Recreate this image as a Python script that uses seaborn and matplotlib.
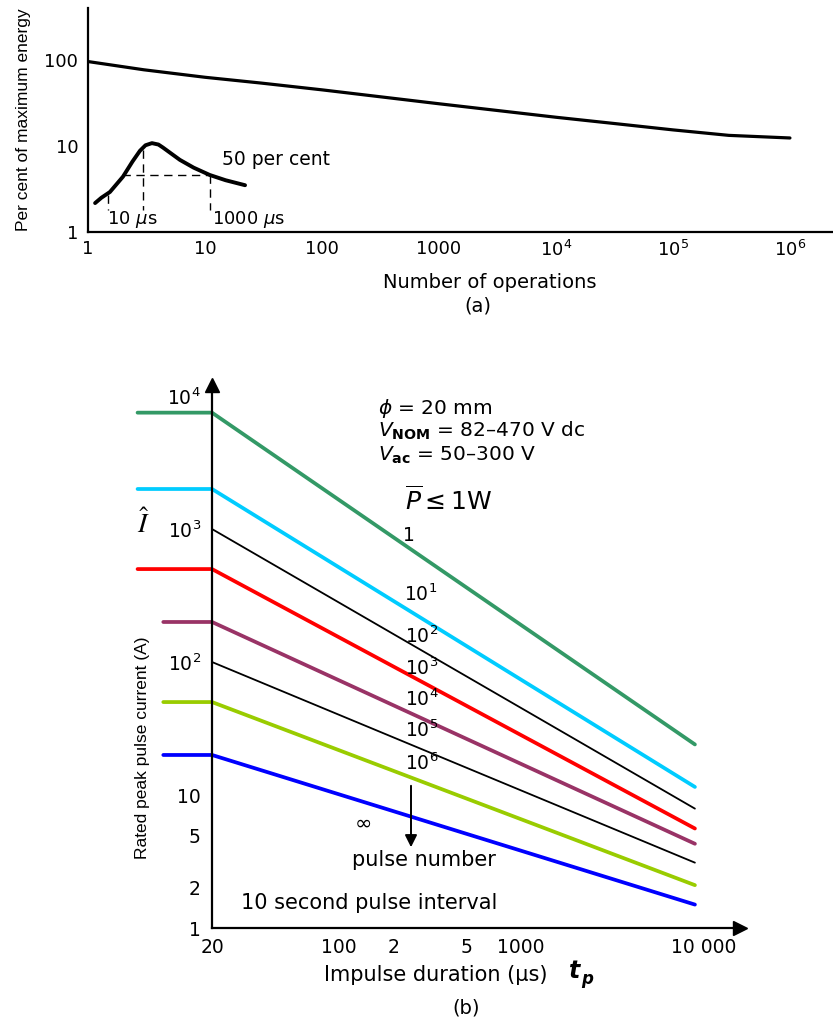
import matplotlib
matplotlib.use("Agg")
import numpy as np
import pandas as pd
import matplotlib.pyplot as plt
import seaborn as sns

# ---- (a) energy capability vs number of operations
ops = [1, 3, 10, 30, 100, 1000, 1e4, 3e4, 1e5, 3e5, 1e6]
energy_pct = [96, 77, 63, 54, 45, 31, 21.6, 18.4, 15.4, 13.3, 12.4]

# small inset sketch (peak curve with 50 per cent width)
inset_x = [1.15, 1.3, 1.54, 1.99, 2.4, 2.78, 3.1, 3.52, 4.0, 4.37, 5.0, 6.1, 8, 11, 15, 22]
inset_y = [2.17, 2.5, 2.92, 4.4, 6.6, 8.8, 10.2, 10.8, 10.4, 9.6, 8.4, 6.9, 5.6, 4.6, 4.0, 3.5]
half_level = 4.6
half_left, peak_x, half_right = 1.48, 2.95, 11

top_xticks = [1, 10, 100, 1000, 1e4, 1e5, 1e6]
top_xlabels = ["1", "10", "100", "1000", r"10$^4$", r"10$^5$", r"10$^6$"]
top_yticks = [1, 5, 10, 50, 100]
top_ylabels = ["1", "", "10", "", "100"]

# ---- (b) rated peak pulse current vs impulse duration
t_knee, t_end = 20, 9000
col_names = ["1", "10^1", "10^3", "10^4", "10^6", "inf"]
col_colors = ["#339966", "#00ccff", "#ff0000", "#993366", "#99cc00", "#0000ff"]
col_start = [7.8, 7.8, 7.8, 10.8, 10.8, 10.8]
col_knee = [7500, 2000, 500, 200, 50, 20]
col_end = [24, 11.5, 5.6, 4.3, 2.1, 1.5]
blk_names = ["10^2", "10^5"]
blk_knee = [1000, 100]
blk_end = [7.9, 3.1]

bot_xticks = [20, 100, 200, 500, 1000, 2000, 5000, 10000]
bot_xlabels = ["20", "100", "2", "5", "1000", "", "", "10 000"]
bot_yticks = [1, 2, 5, 10, 20, 50, 100, 200, 500, 1000, 2000, 5000, 10000]
bot_ylabels = ["1", "2", "5", "10", "", "", r"10$^2$", "", "", r"10$^3$", "", "", r"10$^4$"]

sns.set_style("white")
plt.rcParams["font.family"] = ["DejaVu Sans"]
plt.rcParams["mathtext.fontset"] = "dejavusans"
plt.rcParams["text.color"] = "black"
plt.rcParams["xtick.color"] = "black"
plt.rcParams["ytick.color"] = "black"
plt.rcParams["axes.labelcolor"] = "black"

W, H = 833, 1021
fig = plt.figure(figsize=(W / 100, H / 100), dpi=100)


def fx(px):
    return px / W


def fy(py):
    return 1 - py / H


narrow = ["Liberation Sans", "DejaVu Sans"]

# ================= panel (a)
ax1 = fig.add_axes([fx(88), fy(232), fx(833 - 88), (232 - 8) / H])
ax1.set_xscale("log")
ax1.set_yscale("log")
sns.lineplot(x=ops, y=energy_pct, ax=ax1, color="black", linewidth=2.3, sort=False)
sns.lineplot(x=inset_x, y=inset_y, ax=ax1, color="black", linewidth=2.8, sort=False)
dash = dict(color="black", linewidth=1.0, dashes=(6, 4))
ax1.plot([1.95, half_right], [half_level, half_level], **dash)
ax1.plot([half_left, half_left], [2.7, 1.8], **dash)
ax1.plot([peak_x, peak_x], [9.0, 1.8], **dash)
ax1.plot([half_right, half_right], [half_level, 1.8], **dash)
ax1.set_xlim(1, 10 ** 6.368)
ax1.set_ylim(1, 10 ** 2.605)
ax1.xaxis.set_minor_locator(matplotlib.ticker.NullLocator())
ax1.yaxis.set_minor_locator(matplotlib.ticker.NullLocator())
ax1.set_xticks(top_xticks)
ax1.set_xticklabels(top_xlabels)
ax1.set_yticks(top_yticks)
ax1.set_yticklabels(top_ylabels)
ax1.tick_params(axis="both", direction="in", length=8.5, width=1.3, labelsize=13)
ax1.tick_params(axis="y", pad=7)
ax1.tick_params(axis="x", pad=6)
for s in ["top", "right"]:
    ax1.spines[s].set_visible(False)
for s in ["left", "bottom"]:
    ax1.spines[s].set_linewidth(1.6)
    ax1.spines[s].set_color("black")
ax1.text(14, 6.9, "50 per cent", fontsize=13.5, va="center", ha="left")
ax1.text(1.45, 1.38, r"10 $\mu$s", fontsize=13, va="center", ha="left")
ax1.text(11.5, 1.38, r"1000 $\mu$s", fontsize=13, va="center", ha="left")

fig.text(fx(24), fy(120), "Per cent of maximum energy", rotation=90, ha="center", va="center",
         fontsize=12.5, family=narrow)
fig.text(fx(490), fy(283), "Number of operations", ha="center", va="center", fontsize=14)
fig.text(fx(478), fy(306), "(a)", ha="center", va="center", fontsize=14)

# ================= panel (b)
ax2 = fig.add_axes([fx(130), fy(928), fx(740 - 130), (928 - 385) / H])
ax2.set_xscale("log")
ax2.set_yscale("log")

rows = []
for name, st, kn, en in zip(col_names, col_start, col_knee, col_end):
    rows += [(name, st, kn), (name, t_knee, kn), (name, t_end, en)]
df_col = pd.DataFrame(rows, columns=["pulses", "t", "I"])
rows = []
for name, kn, en in zip(blk_names, blk_knee, blk_end):
    rows += [(name, t_knee, kn), (name, t_end, en)]
df_blk = pd.DataFrame(rows, columns=["pulses", "t", "I"])

sns.lineplot(data=df_blk, x="t", y="I", hue="pulses", palette=["black", "black"], ax=ax2,
             linewidth=1.3, sort=False, estimator=None, legend=False)
sns.lineplot(data=df_col, x="t", y="I", hue="pulses", palette=col_colors, ax=ax2,
             linewidth=2.7, sort=False, estimator=None, legend=False)
ax2.set_xlabel("")
ax2.set_ylabel("")

ax2.set_xlim(10 ** 0.8505, 10 ** 4.202)
ax2.set_ylim(1, 10 ** 4.083)
ax2.spines["left"].set_position(("data", 20))
ax2.spines["bottom"].set_bounds(20, 10 ** 4.202)
for s in ["top", "right"]:
    ax2.spines[s].set_visible(False)
for s in ["left", "bottom"]:
    ax2.spines[s].set_linewidth(1.6)
    ax2.spines[s].set_color("black")
ax2.xaxis.set_minor_locator(matplotlib.ticker.NullLocator())
ax2.yaxis.set_minor_locator(matplotlib.ticker.NullLocator())
ax2.set_xticks(bot_xticks)
ax2.set_xticklabels(bot_xlabels)
ax2.set_yticks(bot_yticks)
ax2.set_yticklabels(bot_ylabels)
ax2.tick_params(axis="x", direction="inout", length=10, width=1.3, labelsize=13.5, pad=2)
ax2.tick_params(axis="y", direction="in", length=8.5, width=1.3, labelsize=13.5, pad=8)
# axis arrows
ax2.plot(1, 1, ">k", markersize=10, transform=ax2.get_yaxis_transform(), clip_on=False)
ax2.plot(20, 1, "^k", markersize=10, transform=ax2.get_xaxis_transform(), clip_on=False)

# curve labels
for lab, px, py in [("1", 409, 535), (r"10$^1$", 421, 594), (r"10$^2$", 422, 636),
                    (r"10$^3$", 422, 668), (r"10$^4$", 422, 699), (r"10$^5$", 422, 730),
                    (r"10$^6$", 422, 763)]:
    fig.text(fx(px), fy(py), lab, ha="center", va="center", fontsize=13.5)
fig.text(fx(363), fy(823), r"$\infty$", ha="center", va="center", fontsize=15)
ax2.annotate("", xy=(fx(411), fy(850)), xytext=(fx(411), fy(783)), xycoords="figure fraction",
             arrowprops=dict(arrowstyle="-|>", color="black", lw=1.4, mutation_scale=18))
fig.text(fx(424), fy(860), "pulse number", ha="center", va="center", fontsize=15)
fig.text(fx(369), fy(903), "10 second pulse interval", ha="center", va="center", fontsize=15)

fig.text(fx(378), fy(408), r"$\phi$ = 20 mm", ha="left", va="center", fontsize=14.5)
fig.text(fx(378), fy(431), r"$V_{\mathbf{NOM}}$ = 82–470 V dc", ha="left", va="center", fontsize=14.5)
fig.text(fx(378), fy(455), r"$V_{\mathbf{ac}}$ = 50–300 V", ha="left", va="center", fontsize=14.5)
fig.text(fx(405), fy(500), r"$\overline{P} \leq 1\mathrm{W}$", ha="left", va="center", fontsize=18)
fig.text(fx(143), fy(524), r"$\hat{I}$", ha="center", va="center", fontsize=20,
         math_fontfamily="stix")

fig.text(fx(143), fy(748), "Rated peak pulse current (A)", rotation=90, ha="center", va="center",
         fontsize=12.5, family=narrow)
fig.text(fx(436), fy(975), "Impulse duration (µs)", ha="center", va="center", fontsize=15)
fig.text(fx(580), fy(971), "t", ha="right", va="center", fontsize=17, style="italic", weight="bold")
fig.text(fx(581), fy(979), "p", ha="left", va="center", fontsize=12, style="italic", weight="bold")
fig.text(fx(466), fy(1008), "(b)", ha="center", va="center", fontsize=14)

fig.savefig("out.png", dpi=100, facecolor="white")
